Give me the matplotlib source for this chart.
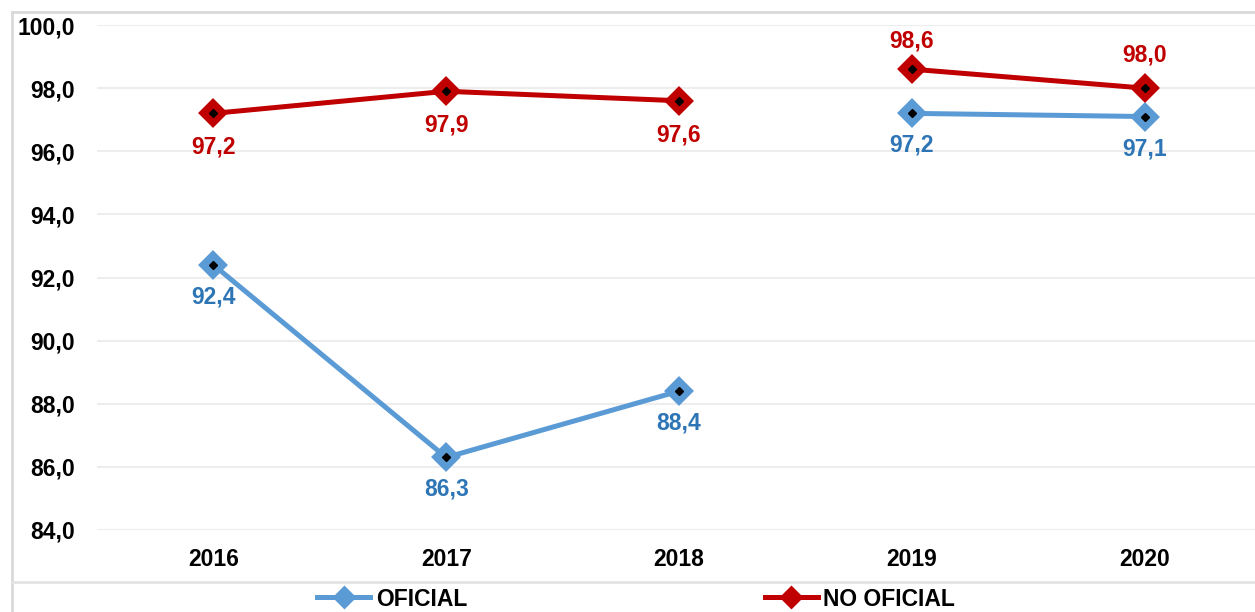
import matplotlib.pyplot as plt
from matplotlib.lines import Line2D

# data
years = ['2016', '2017', '2018', '2019', '2020']
oficial = [92.4, 86.3, 88.4, 97.2, 97.1]
no_oficial = [97.2, 97.9, 97.6, 98.6, 98.0]
yticks = [84, 86, 88, 90, 92, 94, 96, 98, 100]

# label offsets in px (negative = below)
off_oficial = [-32, -32, -32, -32, -32]
off_no_oficial = [-34, -34, -34, 28, 33]

plt.rcParams['font.family'] = ['Liberation Sans', 'DejaVu Sans']
plt.rcParams['font.weight'] = 'bold'

blue = '#5B9BD5'
blue_lab = '#2E75B6'
red = '#C00000'
fs = 16.5

fig = plt.figure(figsize=(12.55, 6.12), dpi=100)
ax = fig.add_axes([97 / 1255, 1 - 530 / 612, 1164 / 1255, 505 / 612])

x = list(range(len(years)))
segs = [(0, 3), (3, 5)]  # series break between 2018 and 2019


def draw(vals, col, labcol, offs, z):
    for a, b in segs:
        ax.plot(x[a:b], vals[a:b], color=col, lw=3.6, marker='D', ms=12,
                mfc=col, mec=col, mew=3, zorder=z, solid_capstyle='round')
    ax.plot(x, vals, ls='none', marker='D', ms=4, color='black', zorder=z + 1)
    for xi, v, o in zip(x, vals, offs):
        ax.annotate(f'{v:.1f}'.replace('.', ','), (xi, v), xytext=(0, o * 0.72),
                    textcoords='offset points', ha='center', va='center',
                    color=labcol, fontsize=fs, fontweight='bold')


draw(oficial, blue, blue_lab, off_oficial, 3)
draw(no_oficial, red, red, off_no_oficial, 5)

ax.set_xlim(-0.5, 4.5)
ax.set_ylim(84, 100)
ax.set_yticks(yticks)
ax.set_yticklabels([f'{t:.1f}'.replace('.', ',') for t in yticks], fontsize=fs, fontweight='bold')
ax.set_xticks(x)
ax.set_xticklabels(years, fontsize=fs, fontweight='bold')
ax.tick_params(axis='y', length=0, pad=16)
ax.tick_params(axis='x', length=0, pad=13)
ax.grid(axis='y', color='#EDEDED', lw=1.5)
ax.set_axisbelow(True)
for s in ax.spines.values():
    s.set_visible(False)

# chart border lines
fig.add_artist(Line2D([12 / 1255, 12 / 1255], [0, 1 - 12 / 612], color='#D9D9D9', lw=2))
fig.add_artist(Line2D([12 / 1255, 1], [1 - 12 / 612, 1 - 12 / 612], color='#D9D9D9', lw=2))
fig.add_artist(Line2D([12 / 1255, 1], [1 - 582 / 612, 1 - 582 / 612], color='#E3E3E3', lw=2))

handles = [Line2D([], [], color=blue, lw=3.6, marker='D', ms=10, mfc=blue, mec=blue, mew=2),
           Line2D([], [], color=red, lw=3.6, marker='D', ms=10, mfc=red, mec=red, mew=2)]
leg = fig.legend(handles, ['OFICIAL', 'NO OFICIAL'], loc='center',
                 bbox_to_anchor=(0.507, 1 - 599 / 612), ncol=2, frameon=False,
                 fontsize=fs, handlelength=2.3, handletextpad=0.25, columnspacing=13)
for t in leg.get_texts():
    t.set_fontweight('bold')

fig.savefig('out.png', dpi=100)
